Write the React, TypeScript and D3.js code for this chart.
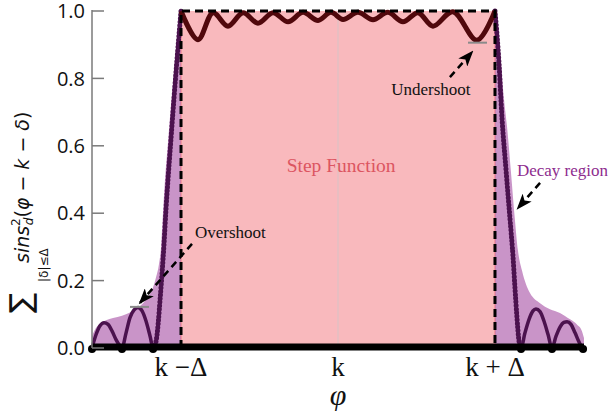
import React from "react";
import * as d3 from "d3";

// k = 0 and Δ = 1 on the x axis
const stepEdges = [-1, 1];
const stepLevel = 1;

const yTicks = [0, 0.2, 0.4, 0.6, 0.8, 1.0];
const xTickPos = [-1, 0, 1];
const xTickLabels = ["k −Δ", "k", "k + Δ"];

// light purple decay envelope
const decayX = [-1.567, -1.541, -1.516, -1.478, -1.433, -1.376, -1.325, -1.28, -1.242, -1.21, -1.185, -1.159, -1.14, -1.127, -1.115, -1.102, -1.083, -1.064, -1.045, -1.025, -1.0,
  0, 1.0, 1.032, 1.057, 1.076, 1.102, 1.127, 1.146, 1.172, 1.197, 1.223, 1.287, 1.35, 1.414, 1.478, 1.522, 1.554, 1.567];
const decayY = [0.035, 0.06, 0.072, 0.082, 0.089, 0.096, 0.105, 0.118, 0.133, 0.152, 0.172, 0.21, 0.25, 0.3, 0.4, 0.5, 0.61, 0.72, 0.82, 0.91, 1.0,
  1.0, 1.0, 0.88, 0.74, 0.66, 0.52, 0.38, 0.29, 0.23, 0.19, 0.163, 0.133, 0.115, 0.104, 0.085, 0.07, 0.05, 0.03];

// dark purple curve, left tail
const leftX = [-1.567, -1.541, -1.516, -1.49, -1.465, -1.439, -1.414, -1.395, -1.376, -1.35, -1.325, -1.299, -1.274, -1.248, -1.223, -1.197, -1.178,
  -1.159, -1.146, -1.134, -1.121, -1.108, -1.096, -1.083, -1.064, -1.045, -1.025, -1.0];
const leftY = [0, 0.04, 0.066, 0.075, 0.07, 0.05, 0.025, 0.01, 0, 0.045, 0.09, 0.113, 0.12, 0.11, 0.08, 0.035, 0,
  0.02, 0.07, 0.14, 0.22, 0.31, 0.41, 0.5, 0.62, 0.74, 0.86, 1.0];

// dark purple curve, right tail
const rightX = [1.0, 1.025, 1.045, 1.07, 1.096, 1.115, 1.127, 1.14, 1.153, 1.166,
  1.191, 1.217, 1.242, 1.261, 1.287, 1.312, 1.338, 1.363, 1.389, 1.414, 1.439, 1.459, 1.484, 1.51, 1.535, 1.561, 1.567];
const rightY = [1.0, 0.85, 0.68, 0.53, 0.38, 0.27, 0.18, 0.09, 0.02, 0,
  0.045, 0.085, 0.11, 0.116, 0.108, 0.08, 0.04, 0, 0.035, 0.062, 0.076, 0.078, 0.07, 0.045, 0.018, 0, 0];

// ripple on top of the step
const rippleX = [-1.0, -0.892, -0.796, -0.701, -0.605, -0.51, -0.414, -0.318, -0.223, -0.127, -0.045, 0.032, 0.127, 0.223, 0.318, 0.414, 0.51, 0.605, 0.732, 0.885, 1.0];
const rippleY = [1.0, 0.915, 0.995, 0.955, 0.995, 0.964, 0.995, 0.968, 0.996, 0.972, 0.996, 0.975, 0.996, 0.974, 0.996, 0.968, 0.995, 0.955, 0.998, 0.913, 1.0];

// zeros of the tails, drawn as black dots on the axis
const zerosX = [-1.567, -1.376, -1.178, 1.166, 1.363, 1.561];

const x = d3.scaleLinear().domain([-1.567, 1.567]).range([92, 584]);
const y = d3.scaleLinear().domain([0, 1]).range([348, 11]);

const toPts = (xs: number[], ys: number[]) => xs.map((v, i) => [v, ys[i]] as [number, number]);

const area = d3.area<[number, number]>()
  .x((d) => x(d[0]))
  .y0(y(0))
  .y1((d) => y(d[1]))
  .curve(d3.curveMonotoneX);

const line = d3.line<[number, number]>()
  .x((d) => x(d[0]))
  .y((d) => y(d[1]))
  .curve(d3.curveMonotoneX);

const smooth = d3.line<[number, number]>()
  .x((d) => x(d[0]))
  .y((d) => y(d[1]))
  .curve(d3.curveCatmullRom.alpha(0.5));

const PURPLE = "#4b124e";
const serif = "'Liberation Serif', serif";

export default function App() {
  const left = toPts(leftX, leftY);
  const right = toPts(rightX, rightY);
  const steepLeft = left.filter((d) => d[0] >= -1.178);
  const steepRight = right.filter((d) => d[0] <= 1.166);
  const [a, b] = stepEdges;

  const arrow = (x1: number, y1: number, x2: number, y2: number) => (
    <line x1={x(x1)} y1={y(y1)} x2={x(x2)} y2={y(y2)} stroke="black" strokeWidth={2.5}
      strokeDasharray="7 5" markerEnd="url(#head)" />
  );

  return (
    <svg width={609} height={420} style={{ position: "absolute", left: 0, top: 0 }}>
      <defs>
        <marker id="head" viewBox="0 0 16 12" refX="14" refY="6" markerWidth="16" markerHeight="12"
          markerUnits="userSpaceOnUse" orient="auto">
          <path d="M0,0 L16,6 L0,12 L4,6 Z" fill="black" />
        </marker>
      </defs>
      <rect width={609} height={420} fill="white" />

      {/* decay envelope */}
      <path d={area(toPts(decayX, decayY)) || ""} fill="#c994c8" />

      {/* step function */}
      <rect x={x(a)} y={y(stepLevel)} width={x(b) - x(a)} height={y(0) - y(stepLevel)} fill="#f9b9bd" />
      <line x1={x(0)} x2={x(0)} y1={y(0)} y2={y(stepLevel)} stroke="#c8c8c8" strokeOpacity={0.35} strokeWidth={2} />
      {stepEdges.map((e) => (
        <line key={e} x1={x(e)} x2={x(e)} y1={y(0)} y2={y(stepLevel)} stroke="#e2505f" strokeWidth={1} strokeOpacity={0.6} />
      ))}

      {/* tails */}
      <path d={line(left) || ""} fill="none" stroke={PURPLE} strokeWidth={3.5} strokeLinejoin="round" />
      <path d={line(right) || ""} fill="none" stroke={PURPLE} strokeWidth={3.5} strokeLinejoin="round" />
      <path d={line(steepLeft) || ""} fill="none" stroke={PURPLE} strokeWidth={5} strokeDasharray="0 3.6" strokeLinecap="round" />
      <path d={line(steepRight) || ""} fill="none" stroke={PURPLE} strokeWidth={5} strokeDasharray="0 3.6" strokeLinecap="round" />

      {/* ripple */}
      <path d={smooth(toPts(rippleX, rippleY)) || ""} fill="none" stroke="#50080c" strokeWidth={5} strokeLinejoin="round" />

      {/* dashed ideal step */}
      <path d={`M${x(a)},${y(0)}V${y(stepLevel)}H${x(b)}V${y(0)}`} fill="none" stroke="black" strokeWidth={3} strokeDasharray="8 5" />

      {/* baseline */}
      <line x1={x(-1.567)} x2={x(1.567)} y1={y(0) - 1} y2={y(0) - 1} stroke="black" strokeWidth={7} />
      {zerosX.map((z) => (
        <circle key={z} cx={x(z)} cy={y(0) + 1} r={4} fill="black" />
      ))}

      {/* y axis */}
      <line x1={92} x2={92} y1={y(0)} y2={y(1) - 1} stroke="#7a7a7a" strokeWidth={1.5} />
      {yTicks.map((t) => (
        <g key={t}>
          <line x1={92} x2={104} y1={y(t)} y2={y(t)} stroke="#7a7a7a" strokeWidth={1.5} />
          <text x={85} y={y(t)} dy="0.36em" textAnchor="end" fontFamily="'Open Sans', sans-serif" fontSize={20} fill="#111">
            {t.toFixed(1)}
          </text>
        </g>
      ))}

      {/* x tick labels */}
      {xTickPos.map((p, i) => (
        <text key={p} x={x(p)} y={376} textAnchor="middle" fontFamily={serif} fontSize={27} fill="#111">
          {xTickLabels[i]}
        </text>
      ))}
      <text x={x(0)} y={405} textAnchor="middle" fontFamily={serif} fontStyle="italic" fontSize={30} fill="#111">φ</text>

      {/* y label */}
      <g transform="translate(29,313) rotate(-90)" fill="#111" fontFamily="'DejaVu Sans', sans-serif">
        <text x={0} y={2} fontSize={30}>∑</text>
        <text x={31} y={19} fontSize={12}>|δ|≤Δ</text>
        <text x={50} y={0} fontSize={19}>
          <tspan fontStyle="italic">sins</tspan>
          <tspan fontSize={12} dy={-9}>2</tspan>
          <tspan fontSize={12} fontStyle="italic" dx={-7} dy={13}>d</tspan>
          <tspan dy={-4}>(</tspan>
          <tspan fontStyle="italic">φ</tspan>
          <tspan> − </tspan>
          <tspan fontStyle="italic">k</tspan>
          <tspan> − </tspan>
          <tspan fontStyle="italic">δ</tspan>
          <tspan>)</tspan>
        </text>
      </g>

      {/* annotations */}
      <text x={x(0.02)} y={y(0.522)} textAnchor="middle" fontFamily={serif} fontSize={19.5} fill="#dc5561">Step Function</text>

      <line x1={x(0.828)} x2={x(0.949)} y1={y(0.906)} y2={y(0.906)} stroke="#8a8a8a" strokeWidth={2} />
      {arrow(0.713, 0.804, 0.854, 0.878)}
      <text x={x(0.592)} y={y(0.751)} textAnchor="middle" fontFamily={serif} fontSize={17} fill="#111">Undershoot</text>

      <line x1={x(-1.325)} x2={x(-1.204)} y1={y(0.122)} y2={y(0.122)} stroke="#8a8a8a" strokeWidth={2} />
      {arrow(-0.93, 0.309, -1.261, 0.134)}
      <text x={x(-0.911)} y={y(0.326)} fontFamily={serif} fontSize={17} fill="#111">Overshoot</text>

      {arrow(1.287, 0.49, 1.146, 0.415)}
      <text x={x(1.14)} y={y(0.51)} fontFamily={serif} fontSize={17} fill="#8e2c8e">Decay region</text>
    </svg>
  );
}
